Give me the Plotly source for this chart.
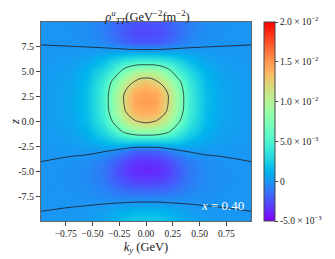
import numpy as np
import plotly.graph_objects as go

# ---- data (values in units of 1e-3 GeV^-2 fm^-2) ----
ky = [-0.98, -0.7, -0.55, -0.4, -0.3, -0.2, -0.1, 0.0, 0.1, 0.2, 0.3, 0.4, 0.55, 0.7, 0.98]
zz = [-10, -9, -8, -7, -6, -5, -4, -3, -2, -1, 0, 1, 2, 3, 4, 5, 6, 7, 8, 9, 10]

# half-rows for |ky| = 0.98, 0.7, 0.55, 0.4, 0.3, 0.2, 0.1, 0
row_m10 = [0.014, 0.080, 0.228, 0.63, 1.22, 1.79, 2.15, 2.2]
row_m9 = [-0.0004, 0.027, 0.10, 0.33, 0.68, 1.06, 1.32, 1.35]
row_m8 = [-0.016, -0.043, -0.084, -0.14, -0.19, -0.19, -0.15, -0.15]
row_m7 = [-0.031, -0.113, -0.27, -0.61, -1.06, -1.40, -1.56, -1.6]
row_m6 = [-0.037, -0.162, -0.41, -1.01, -1.83, -2.54, -2.93, -3.0]
row_m5 = [-0.029, -0.156, -0.43, -1.13, -2.15, -3.12, -3.71, -3.8]
row_m4 = [0.001, -0.091, -0.29, -0.86, -1.76, -2.69, -3.32, -3.4]
row_m3 = [0.039, 0.097, 0.149, 0.07, -0.34, -1.11, -1.84, -1.89]
row_m2 = [0.084, 0.308, 0.71, 1.53, 2.42, 2.86, 2.77, 2.84]
row_m1 = [0.114, 0.48, 1.22, 3.00, 4.9, 7.0, 8.43, 8.65]
row_0 = [0.133, 0.59, 1.56, 3.97, 6.9, 10.0, 11.8, 12.5]
row_1 = [0.144, 0.644, 1.71, 4.42, 8.26, 11.79, 13.85, 14.2]
row_2 = [0.148, 0.666, 1.78, 4.59, 8.58, 12.28, 14.43, 14.8]
row_3 = [0.144, 0.649, 1.73, 4.47, 8.36, 11.95, 14.04, 14.4]
row_4 = [0.134, 0.60, 1.59, 4.11, 7.2, 10.3, 12.2, 13.2]
row_5 = [0.107, 0.47, 1.25, 3.18, 5.0, 7.6, 9.6, 10.0]
row_6 = [0.065, 0.27, 0.70, 1.72, 3.10, 4.27, 4.88, 5.0]
row_7 = [0.023, 0.082, 0.19, 0.40, 0.62, 0.71, 0.68, 0.7]
row_8 = [-0.010, -0.064, -0.20, -0.58, -1.18, -1.81, -2.24, -2.3]
row_9 = [-0.025, -0.116, -0.31, -0.82, -1.54, -2.22, -2.63, -2.7]
row_10 = [-0.025, -0.112, -0.30, -0.76, -1.41, -2.00, -2.34, -2.4]

half_rows = [row_m10, row_m9, row_m8, row_m7, row_m6, row_m5, row_m4, row_m3, row_m2,
             row_m1, row_0, row_1, row_2, row_3, row_4, row_5, row_6, row_7, row_8,
             row_9, row_10]
# the distribution is symmetric in ky
grid = [r + r[-2::-1] for r in half_rows]

contour_zero = [0.0]
contour_pos = [6.5, 12.0]

cb_vals = [-5, 0, 5, 10, 15, 20]
cb_text = ["-5.0 × 10<sup>−3</sup>", "0", "5.0 × 10<sup>−3</sup>",
           "1.0 × 10<sup>−2</sup>", "1.5 × 10<sup>−2</sup>", "2.0 × 10<sup>−2</sup>"]
x_ticks = [-0.75, -0.5, -0.25, 0, 0.25, 0.5, 0.75]
x_text = ["−0.75", "−0.50", "−0.25", "0.00", "0.25", "0.50", "0.75"]
y_ticks = [-7.5, -5, -2.5, 0, 2.5, 5, 7.5]
y_text = ["-7.5", "-5.0", "-2.5", "0.0", "2.5", "5.0", "7.5"]

# matplotlib 'rainbow' colormap
def rainbow(t):
    r = min(1, abs(2 * t - 0.5))
    g = np.sin(np.pi * t)
    b = np.cos(np.pi * t / 2)
    return "rgb(%d,%d,%d)" % (round(r * 255), round(g * 255), round(b * 255))

cscale = [[t, rainbow(t)] for t in np.linspace(0, 1, 41)]

FONT = "Liberation Serif"
# the page body adds an 8px margin; size the figure so it fits the 335x259 window
W, H = 327, 251

fig = go.Figure()
fig.add_trace(go.Contour(
    x=ky, y=zz, z=grid,
    colorscale=cscale, zmin=-5, zmax=20,
    contours=dict(coloring="heatmap", showlines=False),
    line=dict(width=0),
    colorbar=dict(
        x=1.061, xanchor="left", xpad=0, y=0.5, yanchor="middle", len=1.0, ypad=0,
        thickness=11, outlinewidth=1, outlinecolor="#444",
        tickvals=cb_vals, ticktext=cb_text, ticks="outside", ticklen=3,
        tickcolor="#444", tickfont=dict(family=FONT, size=9.5, color="#222"),
    ),
    hoverinfo="skip", showlegend=False,
))
fig.add_trace(go.Contour(
    x=ky, y=zz, z=grid, showscale=False, showlegend=False,
    contours=dict(coloring="none", start=contour_zero[0], end=contour_zero[0], size=1),
    line=dict(color="rgba(30,40,50,0.9)", width=1, smoothing=1.3),
    hoverinfo="skip",
))
fig.add_trace(go.Contour(
    x=ky, y=zz, z=grid, showscale=False, showlegend=False,
    contours=dict(coloring="none", start=contour_pos[0], end=contour_pos[1],
                  size=contour_pos[1] - contour_pos[0]),
    line=dict(color="rgba(30,40,50,0.8)", width=1, smoothing=1.3),
    hoverinfo="skip",
))

fig.update_layout(
    width=W, height=H, showlegend=False,
    margin=dict(l=33, r=81, t=14, b=38),
    paper_bgcolor="white", plot_bgcolor="white",
    font=dict(family=FONT, size=10, color="#222"),
    title=dict(
        text="<i>ρ</i><sup><i>u</i></sup><sub><i>TT</i></sub>(GeV<sup>−2</sup>fm<sup>−2</sup>)",
        x=(139.5 / W), xanchor="center", y=1 - 8.5 / H, yanchor="middle",
        yref="container", font=dict(family=FONT, size=12.5, color="#222"),
    ),
    xaxis=dict(
        range=[-0.98, 0.98], tickvals=x_ticks, ticktext=x_text, tickangle=0,
        automargin=False, tickfont=dict(size=9.5),
        ticks="outside", ticklen=4, tickcolor="#444",
        showline=True, mirror=True, linecolor="#666", linewidth=1,
        showgrid=False, zeroline=False,
        title=dict(text="<i>k<sub>y</sub></i> (GeV)", standoff=3,
                   font=dict(family=FONT, size=12.5)),
    ),
    yaxis=dict(
        range=[-10, 10], tickvals=y_ticks, ticktext=y_text,
        automargin=False, tickfont=dict(size=10),
        ticks="outside", ticklen=4, tickcolor="#444",
        showline=True, mirror=True, linecolor="#666", linewidth=1,
        showgrid=False, zeroline=False,
        title=dict(text="<i>z</i>", standoff=14, font=dict(family=FONT, size=12.5)),
    ),
    annotations=[dict(
        text="<i>x</i> = 0.40", xref="paper", yref="paper",
        x=0.864, y=0.08, xanchor="center", yanchor="middle", showarrow=False,
        font=dict(family=FONT, size=13, color="white"),
    )],
)

fig.write_html("out.html")
